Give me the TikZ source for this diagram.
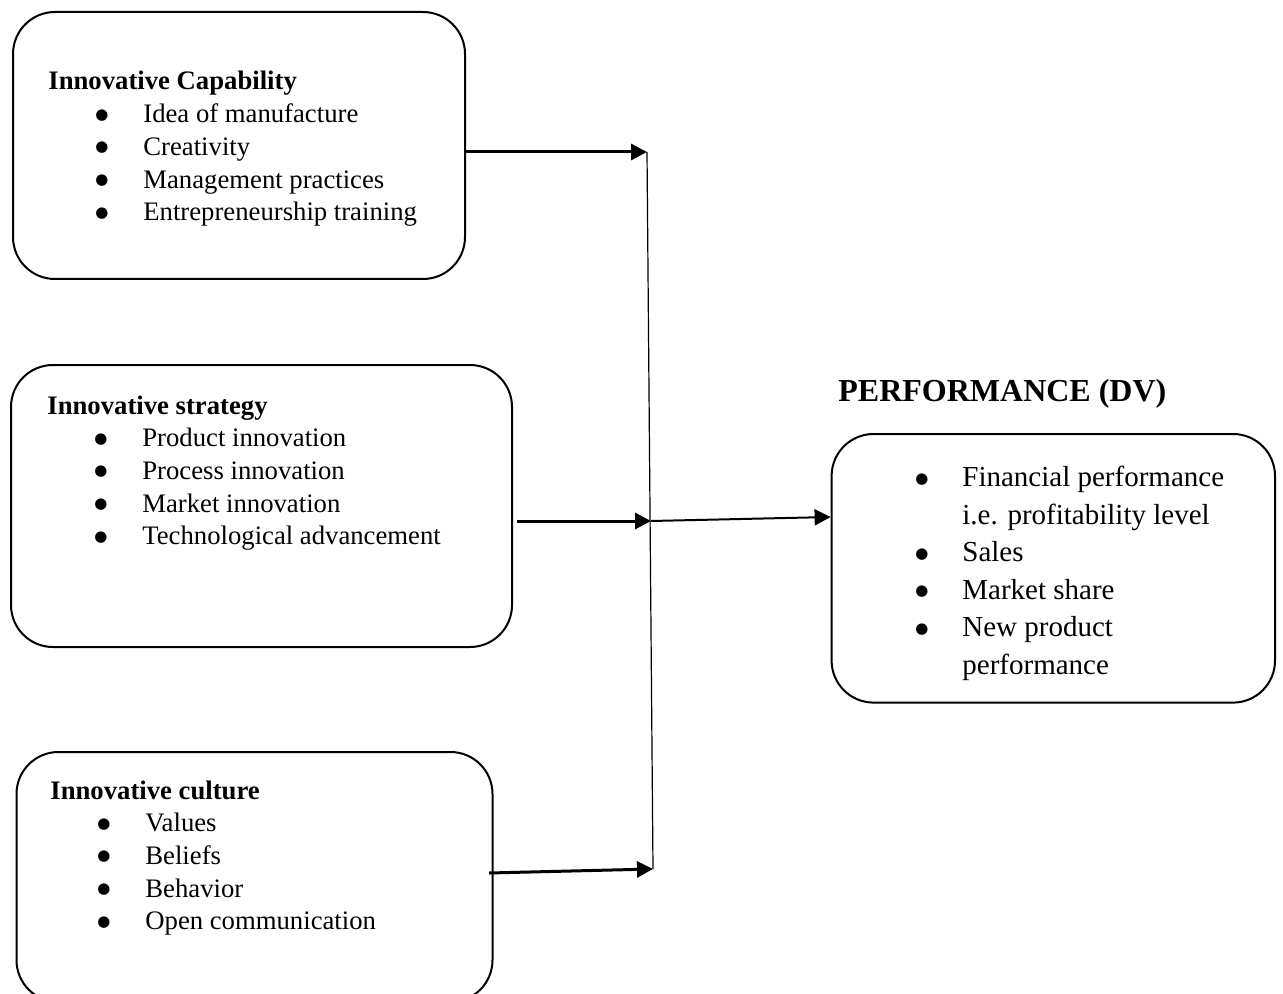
\documentclass[tikz,border=0pt]{standalone}
\usepackage{fontspec}
\setmainfont{Liberation Serif}
\newfontfamily\symf{DejaVu Sans}
\usetikzlibrary{shapes}
\usetikzlibrary{arrows.meta}

\newcommand{\dotb}{\raisebox{1.8pt}{\symf\fontsize{7.5}{7.5}\selectfont ●}}
\newcommand{\itm}[1]{\hspace*{23.5pt}\makebox[24pt][l]{\dotb}#1}
\newcommand{\ritm}[1]{\makebox[23.5pt][l]{\dotb}#1}

\begin{document}
\begin{tikzpicture}[x=0.5pt,y=-0.5pt,
	box/.style={rectangle,draw,line width=1pt,rounded corners=21pt,inner sep=0pt},
	txt/.style={anchor=base west,inner sep=0pt,font=\fontsize{13.35}{16.35}\selectfont},
	rtxt/.style={anchor=base west,inner sep=0pt,font=\fontsize{14.5}{18.75}\selectfont},
	arr/.style={-{Triangle[length=8pt,width=8pt]},line width=1.5pt}
	]
	\useasboundingbox (0,0) rectangle (1283,994);
	% boxes
	\node[box,minimum width=226pt,minimum height=133.5pt] (cap) at (239,145.5) {};
	\node[box,minimum width=250.5pt,minimum height=141pt] (strat) at (261.5,506) {};
	\node[box,minimum width=238pt,minimum height=125pt] (cult) at (254.5,877) {};
	\node[box,minimum width=221.7pt,minimum height=134.3pt] (perf) at (1053.3,568.3) {};
	% texts
	\node[txt] (capt) at (48,90) {\begin{tabular}[t]{@{}l@{}}
		\textbf{Innovative Capability}\\
		\itm{Idea of manufacture}\\
		\itm{Creativity}\\
		\itm{Management practices}\\
		\itm{Entrepreneurship training}
	\end{tabular}};
	\node[txt] (stratt) at (47,414) {\begin{tabular}[t]{@{}l@{}}
		\textbf{Innovative strategy}\\
		\itm{Product innovation}\\
		\itm{Process innovation}\\
		\itm{Market innovation}\\
		\itm{Technological advancement}
	\end{tabular}};
	\node[txt] (cultt) at (50,799) {\begin{tabular}[t]{@{}l@{}}
		\textbf{Innovative culture}\\
		\itm{Values}\\
		\itm{Beliefs}\\
		\itm{Behavior}\\
		\itm{Open communication}
	\end{tabular}};
	\node[anchor=base west,inner sep=0pt,font=\fontsize{16}{19}\selectfont\bfseries] (ptitle) at (838,401.7) {PERFORMANCE (DV)};
	\node[rtxt] (perft) at (915,486.7) {\begin{tabular}[t]{@{}l@{}}
		\ritm{Financial performance}\\
		\hspace*{23.5pt}i.e. profitability level\\
		\ritm{Sales}\\
		\ritm{Market share}\\
		\ritm{New product}\\
		\hspace*{23.5pt}performance
	\end{tabular}};
	% connectors
	\coordinate (j1) at (647,152);
	\coordinate (j2) at (651,521);
	\coordinate (j3) at (653,869);
	\coordinate (s3) at (489,873);
	\coordinate (pin) at (perf.west |- 0,517);
	\draw[line width=0.6pt] (j1) -- (j3);
	\draw[arr] (cap.east |- j1) -- (j1);
	\draw[arr] ([xshift=2pt]strat.east |- j2) -- (j2);
	\draw[arr] (s3) -- (j3);
	\draw[arr,line width=1pt] (j2) -- (pin);
\end{tikzpicture}
\end{document}
